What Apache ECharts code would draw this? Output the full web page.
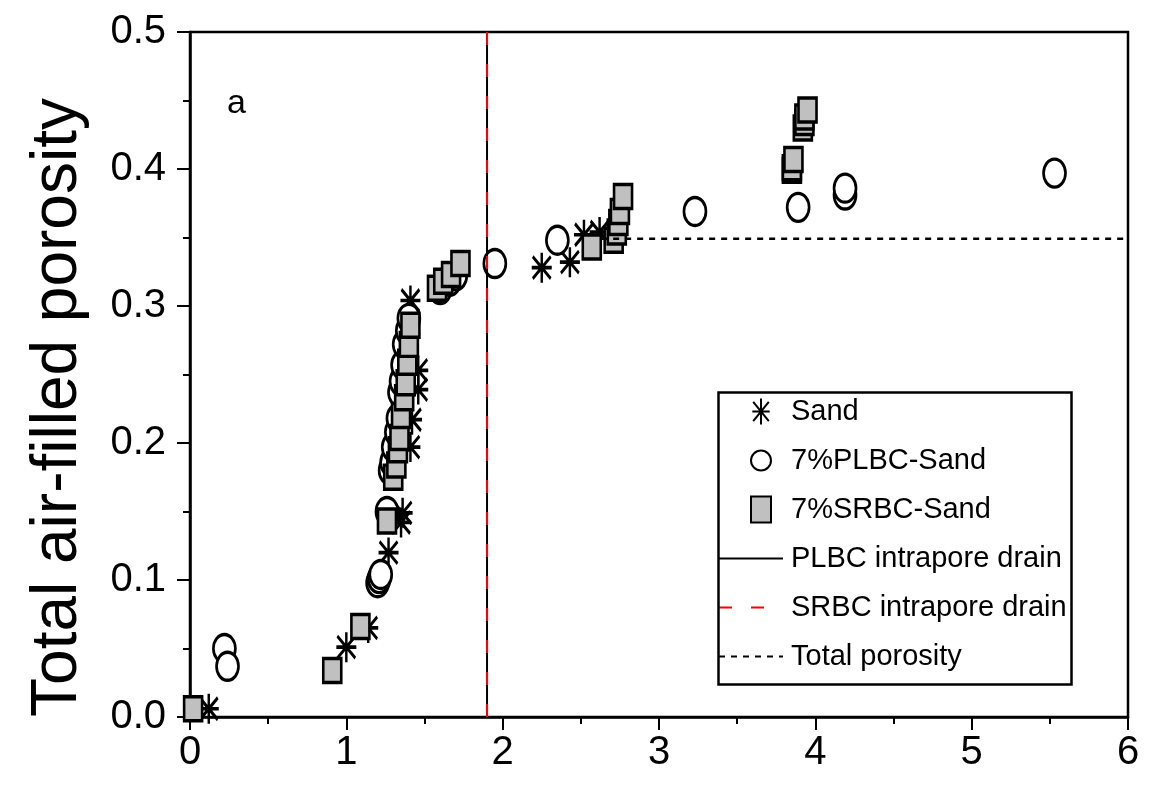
<!DOCTYPE html>
<html>
<head>
<meta charset="utf-8">
<script src="https://cdn.jsdelivr.net/npm/echarts@6/dist/echarts.min.js"></script>
<style>
  html, body { margin: 0; padding: 0; background: #fff; }
  #chart { width: 1150px; height: 800px; }
</style>
</head>
<body>
<div id="chart"></div>
<script>
// Measured [pressure-equivalent x, total air-filled porosity] pairs
const sand = [
  [0.12, 0.006], [1.00, 0.051], [1.14, 0.065], [1.27, 0.120], [1.35, 0.142],
  [1.36, 0.149], [1.41, 0.197], [1.42, 0.217], [1.46, 0.239], [1.46, 0.253],
  [1.41, 0.304], [2.25, 0.328], [2.43, 0.332], [2.52, 0.352], [2.62, 0.354]
];
const plbcSand = [
  [0.22, 0.050], [0.24, 0.037], [1.20, 0.098], [1.21, 0.101], [1.22, 0.104],
  [1.26, 0.150], [1.28, 0.180], [1.29, 0.186], [1.30, 0.197], [1.32, 0.208],
  [1.33, 0.218], [1.34, 0.237], [1.35, 0.245], [1.36, 0.257], [1.37, 0.272],
  [1.39, 0.282], [1.40, 0.291], [1.60, 0.312], [1.66, 0.318], [1.70, 0.322],
  [1.95, 0.331], [2.35, 0.348], [3.23, 0.369], [3.89, 0.372], [4.19, 0.381],
  [4.19, 0.386], [5.53, 0.397]
];
const srbcSand = [
  [0.02, 0.006], [0.91, 0.034], [1.09, 0.066], [1.26, 0.143], [1.30, 0.175],
  [1.32, 0.184], [1.33, 0.195], [1.34, 0.204], [1.35, 0.220], [1.37, 0.233],
  [1.38, 0.244], [1.39, 0.259], [1.40, 0.272], [1.41, 0.286], [1.58, 0.313],
  [1.62, 0.318], [1.67, 0.323], [1.73, 0.331], [2.57, 0.343], [2.71, 0.348],
  [2.73, 0.354], [2.74, 0.361], [2.75, 0.369], [2.77, 0.380], [3.85, 0.399],
  [3.85, 0.401], [3.86, 0.407], [3.92, 0.430], [3.93, 0.434], [3.93, 0.438],
  [3.95, 0.443]
];
// Reference lines
const plbcDrainX = 1.9;
const srbcDrainX = 1.9;
const totalPorosity = 0.349;
const totalPorosityStartX = 2.63;
// Axis ranges and steps
const xRange = [0, 6];
const xStep = 1;
const yRange = [0, 0.5];
const yStep = 0.1;

const ASTERISK = 'path://M10,0L10,30M0,15L20,15M1,4L19,26M19,4L1,26';
const ELLIPSE = 'path://M0,-1A1,1,0,1,1,0,1A1,1,0,1,1,0,-1Z';

const SANS = "'Liberation Sans', Arial, sans-serif";

const chart = echarts.init(document.getElementById('chart'), null, { renderer: 'canvas' });

const axisCommon = {
  axisLine: { show: true, onZero: false, lineStyle: { color: '#000', width: 2.5 } },
  axisTick: { show: true, inside: false, length: 13, lineStyle: { color: '#000', width: 2 } },
  minorTick: { show: true, splitNumber: 2, length: 7, lineStyle: { color: '#000', width: 2 } },
  splitLine: { show: false },
  minorSplitLine: { show: false }
};

// line-series legend entries show only their stroke
const noMarker = { color: 'rgba(0,0,0,0)', borderColor: 'rgba(0,0,0,0)', borderWidth: 0 };

chart.setOption({
  animation: false,
  backgroundColor: '#fff',
  title: {
    text: 'a',
    left: 222,
    top: 82,
    textStyle: { fontFamily: SANS, fontSize: 34, fontWeight: 'normal', color: '#000' }
  },
  grid: {
    left: 190, right: 22, top: 32, bottom: 83,
    show: true, borderColor: '#000', borderWidth: 2.5, backgroundColor: 'transparent'
  },
  xAxis: Object.assign({
    type: 'value',
    min: xRange[0], max: xRange[1], interval: xStep,
    axisLabel: {
      color: '#000', fontFamily: SANS, fontSize: 40, margin: 16,
      formatter: v => String(v)
    }
  }, axisCommon),
  yAxis: Object.assign({
    type: 'value',
    min: yRange[0], max: yRange[1], interval: yStep,
    name: 'Total air-filled porosity',
    nameLocation: 'middle',
    nameRotate: 90,
    nameGap: 100,
    nameTextStyle: {
      fontFamily: SANS, fontSize: 64, color: '#000',
      padding: [0, 66, 0, 0]
    },
    axisLabel: {
      color: '#000', fontFamily: SANS, fontSize: 40, margin: 24,
      formatter: v => v.toFixed(1)
    }
  }, axisCommon),
  legend: [
    {
      orient: 'vertical',
      left: 750, top: 397,
      padding: 0,
      itemWidth: 20, itemHeight: 26, itemGap: 20,
      selectedMode: false,
      textStyle: { fontFamily: SANS, fontSize: 29, color: '#000', padding: [0, 0, 0, 15] },
      data: ['Sand', '7%PLBC-Sand', '7%SRBC-Sand']
    },
    {
      orient: 'vertical',
      left: 718, top: 544,
      padding: 0,
      itemWidth: 64, itemHeight: 14, itemGap: 20,
      selectedMode: false,
      textStyle: { fontFamily: SANS, fontSize: 29, color: '#000', padding: [0, 0, 0, 3] },
      data: [
        { name: 'PLBC intrapore drain', itemStyle: noMarker },
        { name: 'SRBC intrapore drain', itemStyle: noMarker },
        { name: 'Total porosity', itemStyle: noMarker }
      ]
    }
  ],
  graphic: [{
    type: 'rect',
    left: 716, top: 390,
    shape: { width: 353, height: 292 },
    style: { fill: 'none', stroke: '#000', lineWidth: 2.5 },
    silent: true,
    z: 10
  }],
  series: [
    {
      name: 'Sand', type: 'scatter', data: sand,
      symbol: ASTERISK, symbolSize: [20, 30],
      itemStyle: { color: 'transparent', borderColor: '#000', borderWidth: 3, opacity: 1 },
      emphasis: { disabled: true }, z: 2
    },
    {
      name: '7%PLBC-Sand', type: 'scatter', data: plbcSand,
      symbol: ELLIPSE, symbolSize: [22, 28],
      itemStyle: { color: '#fff', borderColor: '#000', borderWidth: 3, opacity: 1 },
      emphasis: { disabled: true }, z: 3
    },
    {
      name: '7%SRBC-Sand', type: 'scatter', data: srbcSand,
      symbol: 'rect', symbolSize: [18, 24],
      itemStyle: { color: '#c0c0c0', borderColor: '#000', borderWidth: 3, opacity: 1 },
      emphasis: { disabled: true }, z: 4
    },
    {
      name: 'PLBC intrapore drain', type: 'line',
      data: [[plbcDrainX, yRange[0]], [plbcDrainX, yRange[1]]],
      symbol: 'none', showSymbol: false,
      itemStyle: { color: '#000' },
      lineStyle: { color: '#000', width: 2, type: 'solid' },
      emphasis: { disabled: true }, z: 5
    },
    {
      name: 'SRBC intrapore drain', type: 'line',
      data: [[srbcDrainX, yRange[0]], [srbcDrainX, yRange[1]]],
      symbol: 'none', showSymbol: false,
      itemStyle: { color: '#ff0000' },
      lineStyle: { color: '#ff0000', width: 2, type: [13, 19] },
      emphasis: { disabled: true }, z: 6
    },
    {
      name: 'Total porosity', type: 'line',
      data: [[totalPorosityStartX, totalPorosity], [xRange[1], totalPorosity]],
      symbol: 'none', showSymbol: false,
      itemStyle: { color: '#000' },
      lineStyle: { color: '#000', width: 2.5, type: [6, 6] },
      emphasis: { disabled: true }, z: 5
    }
  ]
});
</script>
</body>
</html>
